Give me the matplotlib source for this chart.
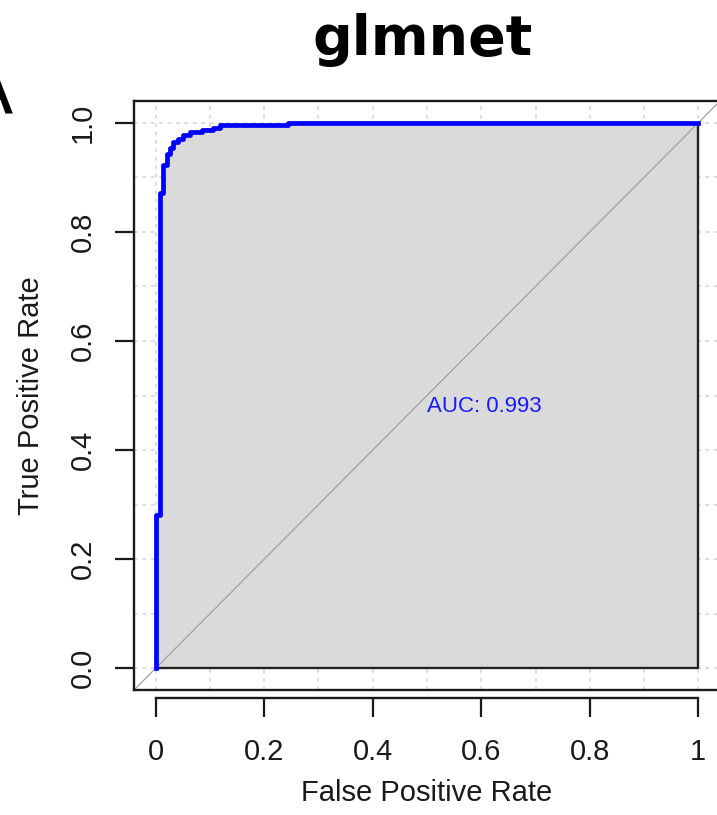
import numpy as np
from matplotlib import pyplot as plt
import matplotlib

matplotlib.rcParams['font.family'] = ['Liberation Sans', 'DejaVu Sans']

# ROC curve corners (steps-post)
fpr = [0.0, 0.0, 0.007, 0.014, 0.020, 0.026, 0.032, 0.042, 0.051, 0.063,
       0.085, 0.106, 0.118, 0.244, 1.0]
tpr = [0.0, 0.28, 0.871, 0.923, 0.942, 0.953, 0.964, 0.971, 0.978, 0.983,
       0.987, 0.990, 0.996, 1.0, 1.0]

x_ticks = [0, 0.2, 0.4, 0.6, 0.8, 1]
x_tick_labels = ['0', '0.2', '0.4', '0.6', '0.8', '1']
y_ticks = [0, 0.2, 0.4, 0.6, 0.8, 1]
y_tick_labels = ['0.0', '0.2', '0.4', '0.6', '0.8', '1.0']
grid_steps = np.round(np.arange(0, 1.01, 0.1), 1)

title = 'glmnet'
auc_label = 'AUC: 0.993'
panel_letter = 'A'

W, H = 717, 815
fig = plt.figure(figsize=(W / 100, H / 100), dpi=100)
ax = fig.add_axes([134 / W, 1 - 690 / H, (720 - 134) / W, (690 - 101) / H])
ax.set_xlim(-0.04, 1.04)
ax.set_ylim(-0.04, 1.04)

# dashed grid every 0.1
for g in grid_steps:
    ax.axvline(g, color='#d4d4d4', lw=1.1, ls=(0, (2.5, 3)), zorder=0)
    ax.axhline(g, color='#d4d4d4', lw=1.1, ls=(0, (2.5, 3)), zorder=0)

# area under the curve
ax.fill_between(fpr, tpr, step='post', facecolor='#dadada',
                edgecolor='#222222', lw=1.7, zorder=1)
ax.axline((0, 0), (1, 1), color='#a0a0a0', lw=0.9, zorder=2)
ax.step(fpr, tpr, where='post', color='#0000ff', lw=3.4, zorder=3)

ax.text(0.5, 0.48, auc_label, color='#1a1aff', fontsize=16,
        ha='left', va='center', zorder=4)

# box + offset x axis
for s in ax.spines.values():
    s.set_linewidth(1.7)
    s.set_color('#1a1a1a')
ax.spines['bottom'].set_position(('outward', 6))
ax.spines['bottom'].set_bounds(0, 1)
ax.plot([0, 1], [0, 0], transform=ax.transAxes, color='#1a1a1a', lw=1.7,
        clip_on=False, zorder=5)

ax.set_xticks(x_ticks)
ax.set_xticklabels(x_tick_labels)
ax.set_yticks(y_ticks)
ax.set_yticklabels(y_tick_labels, rotation=90, va='center')
ax.tick_params(axis='both', length=13.7, width=1.6, color='#1a1a1a',
               labelsize=21, labelcolor='#1a1a1a')
ax.tick_params(axis='x', pad=15)
ax.tick_params(axis='y', pad=13)

ax.set_xlabel('False Positive Rate', fontsize=21, color='#1a1a1a', labelpad=9)
ax.set_ylabel('True Positive Rate', fontsize=21, color='#1a1a1a', labelpad=17)

fig.text(423 / W, 1 - 55 / H, title, fontsize=40, fontweight='bold',
         family='DejaVu Sans', ha='center', va='baseline')
fig.text(13 / W, 1 - 113 / H, panel_letter, fontsize=52,
         family='DejaVu Sans', ha='right', va='baseline')

fig.savefig('out.png', dpi=100)
